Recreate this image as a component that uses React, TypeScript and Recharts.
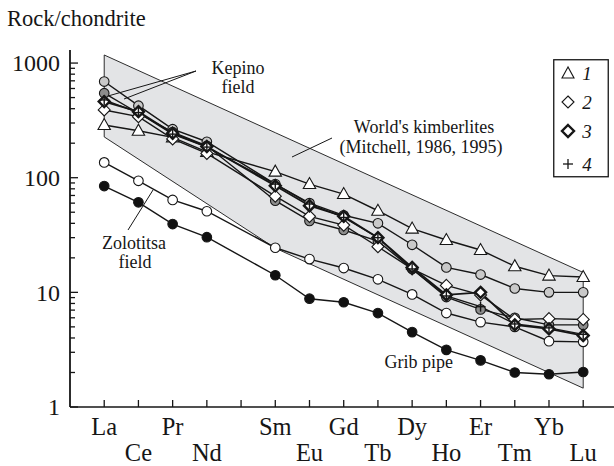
import React from 'react';
import { ComposedChart, Line, Area, XAxis, YAxis, ReferenceLine, Legend } from 'recharts';

const elements = ['La', 'Ce', 'Pr', 'Nd', 'Pm', 'Sm', 'Eu', 'Gd', 'Tb', 'Dy', 'Ho', 'Er', 'Tm', 'Yb', 'Lu'];
const labelRow = [0, 1, 0, 1, -1, 0, 1, 0, 1, 0, 1, 0, 1, 0, 1];
const yTicks = [1, 2, 3, 4, 5, 6, 7, 8, 9, 10, 20, 30, 40, 50, 60, 70, 80, 90, 100, 200, 300, 400, 500, 600, 700, 800, 900, 1000];

const triangles1 = [288, 257, 225, 168, null, 113, 88, 72, 51.5, 36, 28.6, 23.4, 16.9, 14.0, 13.6];
const diamonds2 = [390, 341, 218, 163, null, 69, 46, 38.6, 25, 16, 11.5, 9.5, 5.8, 5.9, 5.8];
const diamonds3 = [461, 377, 244, 187, null, 85, 57, 46, 30, 16.5, 9.5, 10, 5.2, 4.8, 4.2];
const plus4 = [477, 370, 240, 185, null, 88, 59, 45, 30, 16, 9.3, 7.5, 5.3, 4.9, 4.3];
const greyLight = [690, 425, 265, 206, null, 88, 60, 47, 40, 26, 16.5, 14.3, 10.8, 10.0, 10.0];
const greyDark = [546, 365, 250, 190, null, 63, 42, 35, 28, 16, 9.1, 7.1, 6.0, 5.2, 5.2];
const zolotitsa = [136, 94, 64, 51, null, 24.5, 19.5, 16.3, 13.0, 9.6, 6.6, 5.5, 5.0, 3.75, 3.7];
const grib = [84.6, 61, 39.4, 30.3, null, 14.1, 8.8, 8.2, 6.6, 4.5, 3.15, 2.55, 2.0, 1.93, 2.02];

const bandX = [0, 5, 14];
const bandLow = [227, 24.3, 1.46];
const bandHigh = [1176, 247, 14.9];

const data = elements.map((el, i) => {
  const b = bandX.indexOf(i);
  return {
    x: i,
    el,
    s1: triangles1[i],
    s2: diamonds2[i],
    s3: diamonds3[i],
    s4: plus4[i],
    gl: greyLight[i],
    gd: greyDark[i],
    zo: zolotitsa[i],
    gr: grib[i],
    band: b >= 0 ? [bandLow[b], bandHigh[b]] : null,
  };
});

const FONT = "'Liberation Serif', 'Times New Roman', serif";
const INK = '#161616';
const AXIS_X = 70;
const AXIS_Y = 407;

const empty = (p: any) => p.cx == null || p.cy == null || p.value == null;

const TriangleDot = (p: any) => {
  if (empty(p)) return <g key={`t${p.index}`} />;
  const { cx, cy } = p;
  return (
    <polygon key={`t${p.index}`} points={`${cx},${cy - 6.5} ${cx - 6.2},${cy + 4.5} ${cx + 6.2},${cy + 4.5}`}
      fill="#fff" stroke={INK} strokeWidth={1.1} />
  );
};
const DiamondDot = (p: any) => {
  if (empty(p)) return <g key={`d${p.index}`} />;
  const { cx, cy } = p;
  const s = 6;
  return (
    <polygon key={`d${p.index}`} points={`${cx},${cy - s} ${cx + s},${cy} ${cx},${cy + s} ${cx - s},${cy}`}
      fill="#fff" stroke={INK} strokeWidth={1.1} />
  );
};
const BoldDiamondDot = (p: any) => {
  if (empty(p)) return <g key={`b${p.index}`} />;
  const { cx, cy } = p;
  const s = 5.5;
  return (
    <polygon key={`b${p.index}`} points={`${cx},${cy - s} ${cx + s},${cy} ${cx},${cy + s} ${cx - s},${cy}`}
      fill="#fff" stroke={INK} strokeWidth={2.4} />
  );
};
const PlusDot = (p: any) => {
  if (empty(p)) return <g key={`p${p.index}`} />;
  const { cx, cy } = p;
  return (
    <g key={`p${p.index}`}>
      <line x1={cx - 5} x2={cx + 5} y1={cy} y2={cy} stroke={INK} strokeWidth={1.4} />
      <line x1={cx} x2={cx} y1={cy - 5} y2={cy + 5} stroke={INK} strokeWidth={1.4} />
    </g>
  );
};
const circleDot = (fill: string, tag: string) => (p: any) => {
  if (empty(p)) return <g key={`${tag}${p.index}`} />;
  return <circle key={`${tag}${p.index}`} cx={p.cx} cy={p.cy} r={4.8} fill={fill} stroke={INK} strokeWidth={1.1} />;
};

const YTick = (props: any) => {
  const { y, payload } = props;
  const v = payload.value;
  const lg = Math.log10(v);
  const major = Math.abs(lg - Math.round(lg)) < 1e-9;
  return (
    <g>
      <line x1={AXIS_X} x2={AXIS_X + (major ? 8 : 5)} y1={y} y2={y} stroke={INK} strokeWidth={1.3} />
      {major && (
        <text x={AXIS_X - 10} y={y} dy="0.34em" textAnchor="end" fontFamily={FONT} fontSize={24} fill={INK}>
          {v}
        </text>
      )}
    </g>
  );
};

const XTick = (props: any) => {
  const { x, payload } = props;
  const i = payload.value;
  const row = labelRow[i];
  const label = row >= 0 ? elements[i] : '';
  return (
    <g>
      <line x1={x} x2={x} y1={AXIS_Y - 7} y2={AXIS_Y} stroke={INK} strokeWidth={1.3} />
      {label && (
        <text x={x} y={row === 0 ? AXIS_Y + 27.5 : AXIS_Y + 53.5} textAnchor="middle" fontFamily={FONT} fontSize={24.5} fill={INK}>
          {label}
        </text>
      )}
    </g>
  );
};

const legendItems = [
  { kind: 'tri', label: '1', y: 14 },
  { kind: 'dia', label: '2', y: 43 },
  { kind: 'bdia', label: '3', y: 72 },
  { kind: 'plus', label: '4', y: 105 },
];

const LegendBox = () => (
  <svg width={56} height={119} style={{ display: 'block' }}>
    <rect x={0.75} y={0.75} width={54.5} height={117} fill="#fff" stroke={INK} strokeWidth={1.3} />
    {legendItems.map((it) => {
      const cx = 15;
      const cy = it.y;
      let sym: any = null;
      if (it.kind === 'tri') sym = <polygon points={`${cx},${cy - 6} ${cx - 6},${cy + 5} ${cx + 6},${cy + 5}`} fill="#fff" stroke={INK} strokeWidth={1.1} />;
      if (it.kind === 'dia') sym = <polygon points={`${cx},${cy - 6} ${cx + 6},${cy} ${cx},${cy + 6} ${cx - 6},${cy}`} fill="#fff" stroke={INK} strokeWidth={1.1} />;
      if (it.kind === 'bdia') sym = <polygon points={`${cx},${cy - 6} ${cx + 6},${cy} ${cx},${cy + 6} ${cx - 6},${cy}`} fill="#fff" stroke={INK} strokeWidth={2.4} />;
      if (it.kind === 'plus') sym = (
        <g>
          <line x1={cx - 5} x2={cx + 5} y1={cy} y2={cy} stroke={INK} strokeWidth={1.3} />
          <line x1={cx} x2={cx} y1={cy - 5} y2={cy + 5} stroke={INK} strokeWidth={1.3} />
        </g>
      );
      return (
        <g key={it.label}>
          {sym}
          <text x={34} y={cy} dy="0.35em" textAnchor="middle" fontFamily={FONT} fontStyle="italic" fontSize={19} fill={INK}>
            {it.label}
          </text>
        </g>
      );
    })}
  </svg>
);

export default function App() {
  const lineProps = { type: 'linear' as const, stroke: INK, strokeWidth: 1.4, connectNulls: true, isAnimationActive: false, legendType: 'none' as const };
  return (
    <div style={{ position: 'absolute', left: 0, top: 0, width: 614, height: 466, background: '#fff' }}>
      <ComposedChart width={614} height={466} data={data} margin={{ top: 50, right: 0, bottom: 0, left: 0 }}>
        <XAxis type="number" dataKey="x" domain={[-1, 14.9]} ticks={elements.map((_, i) => i)} allowDataOverflow
          height={59} tickLine={false} tickSize={0} tick={<XTick />} interval={0}
          axisLine={{ stroke: INK, strokeWidth: 1.6 }} />
        <YAxis type="number" scale="log" domain={[1, 1300]} ticks={yTicks} allowDataOverflow width={70}
          tickLine={false} tickSize={0} tick={<YTick />} interval={0}
          axisLine={{ stroke: INK, strokeWidth: 1.8 }} />
        <Area dataKey="band" type="linear" connectNulls fill="#e3e4e6" fillOpacity={1} stroke={INK} strokeWidth={0.9}
          isAnimationActive={false} dot={false} activeDot={false} legendType="none" />
        <ReferenceLine segment={[{ x: bandX[0], y: bandLow[0] }, { x: bandX[0], y: bandHigh[0] }]} stroke={INK} strokeWidth={0.9} />
        <ReferenceLine segment={[{ x: bandX[2], y: bandLow[2] }, { x: bandX[2], y: bandHigh[2] }]} stroke={INK} strokeWidth={0.9} />
        <Line dataKey="zo" {...lineProps} dot={circleDot('#fff', 'z')} />
        <Line dataKey="gr" {...lineProps} dot={circleDot('#111', 'g')} />
        <Line dataKey="gl" {...lineProps} dot={circleDot('#c9c9c9', 'l')} />
        <Line dataKey="s1" {...lineProps} dot={TriangleDot} />
        <Line dataKey="gd" {...lineProps} dot={circleDot('#8c8c8c', 'k')} />
        <Line dataKey="s2" {...lineProps} dot={DiamondDot} />
        <Line dataKey="s3" {...lineProps} strokeWidth={1.8} dot={BoldDiamondDot} />
        <Line dataKey="s4" {...lineProps} dot={PlusDot} />
        <Legend layout="vertical" align="center" verticalAlign="middle" content={() => <LegendBox />}
          wrapperStyle={{ position: 'absolute', left: 553, top: 59, width: 56, height: 119 }} />
      </ComposedChart>
      <svg width={614} height={466} style={{ position: 'absolute', left: 0, top: 0, pointerEvents: 'none' }}>
        <text x={7} y={26} fontFamily={FONT} fontSize={22.5} fill={INK}>Rock/chondrite</text>
        <g fontFamily={FONT} fontSize={18} fill={INK} textAnchor="middle">
          <text x={238} y={74}>Kepino</text>
          <text x={238} y={93}>field</text>
          <text x={424} y={133}>World's kimberlites</text>
          <text x={421} y={153}>(Mitchell, 1986, 1995)</text>
          <text x={134} y={249}>Zolotitsa</text>
          <text x={135} y={268}>field</text>
          <text x={453} y={368} textAnchor="end">Grib pipe</text>
        </g>
        <g stroke={INK} strokeWidth={1}>
          <line x1={196} y1={71} x2={108} y2={96} />
          <line x1={196} y1={71} x2={124} y2={99} />
          <line x1={332} y1={138} x2={292} y2={157} />
          <line x1={128} y1={230} x2={153} y2={190} />
        </g>
      </svg>
    </div>
  );
}
